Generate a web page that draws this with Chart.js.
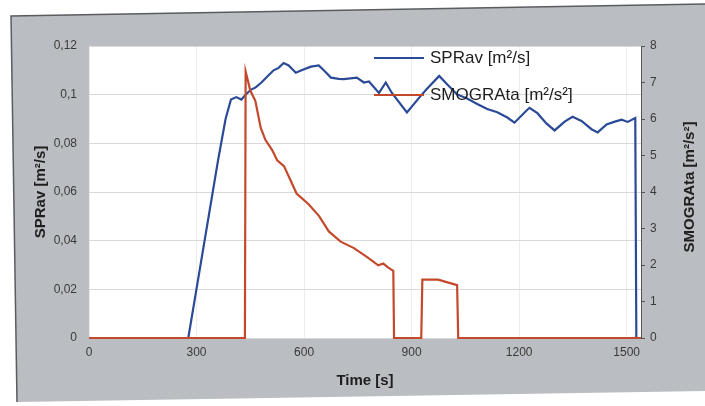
<!DOCTYPE html>
<html>
<head>
<meta charset="utf-8">
<script src="https://cdn.jsdelivr.net/npm/chart.js@4/dist/chart.umd.min.js"></script>
<style>
  html, body { margin: 0; padding: 0; background: #ffffff; }
  #wrap { width: 705px; height: 406px; }
</style>
</head>
<body>
<div id="wrap"><canvas id="c" width="705" height="406"></canvas></div>
<script>
// ---- Data ----
const sprTime = [0, 277, 360, 381, 396, 411, 425, 437, 451, 465, 481, 501, 515, 529, 543, 557, 577, 593, 619, 641, 655, 675, 697, 711, 747, 767, 781, 809, 828, 845, 887, 926, 943, 977, 999, 1027, 1055, 1083, 1111, 1139, 1167, 1187, 1220, 1229, 1251, 1276, 1299, 1327, 1349, 1374, 1402, 1419, 1444, 1467, 1486, 1503, 1524, 1527];
const sprValues = [0, 0, 0.073, 0.090, 0.098, 0.099, 0.098, 0.100, 0.102, 0.103, 0.105, 0.108, 0.110, 0.111, 0.113, 0.112, 0.109, 0.110, 0.1115, 0.112, 0.110, 0.107, 0.1065, 0.1064, 0.107, 0.105, 0.1054, 0.1007, 0.105, 0.1007, 0.0927, 0.0996, 0.1024, 0.1077, 0.1043, 0.1001, 0.0984, 0.0962, 0.0941, 0.0928, 0.0906, 0.0885, 0.0934, 0.0946, 0.0924, 0.0882, 0.0853, 0.0889, 0.0909, 0.0892, 0.0858, 0.0845, 0.0878, 0.0889, 0.0897, 0.0888, 0.0904, 0];

const smogTime = [0, 435, 437, 450, 464, 479, 492, 511, 525, 544, 560, 579, 612, 642, 669, 702, 738, 777, 807, 821, 835, 849, 851, 927, 930, 974, 1027, 1030, 1540];
const smogValues = [0, 0, 7.3, 6.78, 6.5, 5.76, 5.43, 5.15, 4.87, 4.71, 4.37, 3.96, 3.67, 3.34, 2.92, 2.64, 2.47, 2.21, 1.99, 2.04, 1.93, 1.84, 0, 0, 1.6, 1.6, 1.45, 0, 0];

const xTicks = [0, 300, 600, 900, 1200, 1500];
const leftTicks = [0, 0.02, 0.04, 0.06, 0.08, 0.1, 0.12];
const rightTicks = [0, 1, 2, 3, 4, 5, 6, 7, 8];

const sprLabel = 'SPRav [m\u00B2/s]';
const smogLabel = 'SMOGRAta [m\u00B2/s\u00B2]';
const xTitle = 'Time [s]';

// ---- Styling ----
const BLUE = '#2b4a96';
const RED = '#c4492c';
const FONT = "'Liberation Sans', Arial, sans-serif";

const toXY = (xs, ys) => xs.map((x, i) => ({ x: x, y: ys[i] }));

const backgroundPlugin = {
  id: 'paperBackground',
  beforeDraw(chart) {
    const ctx = chart.ctx;
    const a = chart.chartArea;
    ctx.save();
    ctx.fillStyle = '#ffffff';
    ctx.fillRect(0, 0, chart.width, chart.height);
    ctx.beginPath();
    ctx.moveTo(11, 16);
    ctx.lineTo(705, 4);
    ctx.lineTo(705, 391);
    ctx.lineTo(17, 402);
    ctx.closePath();
    ctx.fillStyle = '#babdc1';
    ctx.fill();
    ctx.strokeStyle = '#5a5c60';
    ctx.lineWidth = 1.5;
    ctx.beginPath();
    ctx.moveTo(17, 402);
    ctx.lineTo(11, 16);
    ctx.lineTo(705, 4);
    ctx.stroke();
    ctx.fillStyle = '#ffffff';
    ctx.fillRect(a.left, a.top, a.right - a.left, a.bottom - a.top);
    ctx.restore();
  }
};

const legendPlugin = {
  id: 'insideLegend',
  afterDatasetsDraw(chart) {
    const ctx = chart.ctx;
    const a = chart.chartArea;
    const items = [
      { label: sprLabel, color: BLUE, dy: 12 },
      { label: smogLabel, color: RED, dy: 49 }
    ];
    ctx.save();
    items.forEach(it => {
      const y = a.top + it.dy;
      ctx.strokeStyle = it.color;
      ctx.lineWidth = 2;
      ctx.beginPath();
      ctx.moveTo(a.left + 285, y);
      ctx.lineTo(a.left + 335, y);
      ctx.stroke();
      ctx.fillStyle = '#1e1e1e';
      ctx.font = '17px ' + FONT;
      ctx.textBaseline = 'middle';
      ctx.textAlign = 'left';
      ctx.fillText(it.label, a.left + 341, y);
    });
    ctx.restore();
  }
};

const rightTitlePlugin = {
  id: 'rightTitle',
  afterDraw(chart) {
    const ctx = chart.ctx;
    ctx.save();
    ctx.translate(690, 187);
    ctx.rotate(-Math.PI / 2);
    ctx.fillStyle = '#1e1e1e';
    ctx.font = 'bold 15px ' + FONT;
    ctx.textAlign = 'center';
    ctx.textBaseline = 'middle';
    ctx.fillText(smogLabel, 0, 0);
    ctx.restore();
  }
};

new Chart(document.getElementById('c'), {
  type: 'scatter',
  data: {
    datasets: [
      {
        label: smogLabel,
        data: toXY(smogTime, smogValues),
        yAxisID: 'y2',
        showLine: true,
        borderColor: RED,
        backgroundColor: RED,
        borderWidth: 2.2,
        pointRadius: 0,
        tension: 0,
        clip: 4,
        order: 0
      },
      {
        label: sprLabel,
        data: toXY(sprTime, sprValues),
        yAxisID: 'y',
        showLine: true,
        borderColor: BLUE,
        backgroundColor: BLUE,
        borderWidth: 2.2,
        pointRadius: 0,
        tension: 0,
        clip: 4,
        order: 1
      }
    ]
  },
  options: {
    responsive: false,
    animation: false,
    devicePixelRatio: 1,
    layout: { padding: { top: 46, left: 0, right: 0, bottom: 0 } },
    plugins: {
      legend: { display: false },
      tooltip: { enabled: false }
    },
    scales: {
      x: {
        type: 'linear',
        min: 0,
        max: 1540,
        afterFit: s => { s.height = 68; },
        afterBuildTicks: s => { s.ticks = xTicks.map(v => ({ value: v })); },
        ticks: {
          includeBounds: false,
          padding: 7,
          color: '#3a3a3a',
          font: { family: FONT, size: 12 },
          maxRotation: 0,
          callback: v => String(v)
        },
        grid: { color: '#ededed', drawTicks: false },
        border: { display: false },
        title: {
          display: true,
          text: xTitle,
          color: '#1e1e1e',
          font: { family: FONT, size: 15, weight: 'bold' },
          padding: { top: 0, bottom: 16 }
        }
      },
      y: {
        position: 'left',
        min: 0,
        max: 0.12,
        afterFit: s => { s.width = 89; },
        afterBuildTicks: s => { s.ticks = leftTicks.map(v => ({ value: v })); },
        ticks: {
          padding: 12,
          color: '#3a3a3a',
          font: { family: FONT, size: 12 },
          callback: v => String(parseFloat(Number(v).toFixed(2))).replace('.', ',')
        },
        grid: { color: '#d9d9d9', drawTicks: false },
        border: { display: false },
        title: {
          display: true,
          text: sprLabel,
          color: '#1e1e1e',
          font: { family: FONT, size: 15, weight: 'bold' },
          padding: { top: 32, bottom: 0 }
        }
      },
      y2: {
        position: 'right',
        min: 0,
        max: 8,
        afterFit: s => { s.width = 64; },
        afterBuildTicks: s => { s.ticks = rightTicks.map(v => ({ value: v })); },
        ticks: {
          padding: 5,
          color: '#3a3a3a',
          font: { family: FONT, size: 12 },
          callback: v => String(v)
        },
        grid: { drawOnChartArea: false, drawTicks: true, tickLength: 4, color: '#555555' },
        border: { display: true, color: '#555555', width: 1 }
      }
    }
  },
  plugins: [backgroundPlugin, legendPlugin, rightTitlePlugin]
});
</script>
</body>
</html>
